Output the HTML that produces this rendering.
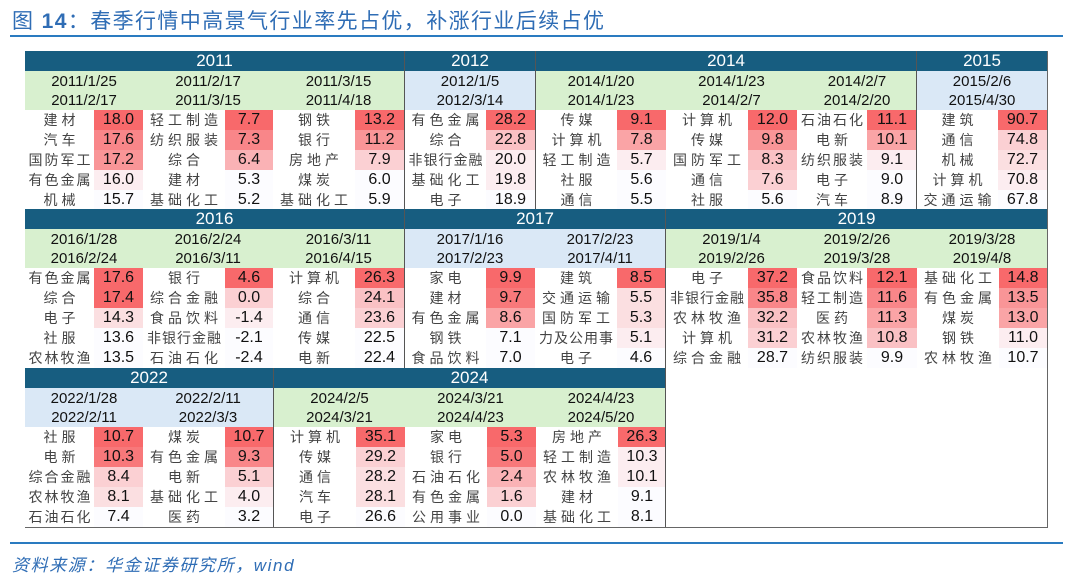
<!DOCTYPE html>
<html><head><meta charset="utf-8"><style>
*{margin:0;padding:0;box-sizing:border-box}
body{width:1080px;height:581px;background:#fff;position:relative;overflow:hidden;font-family:"Liberation Sans","Noto Sans CJK SC",sans-serif}
.title{position:absolute;left:12px;top:5px;font-size:21px;color:#2f6db5;letter-spacing:1.4px;white-space:nowrap}
.line{position:absolute;left:10px;width:1053px;height:2px;background:#2a7bc0}
.foot{position:absolute;left:12px;top:551px;font-size:17px;color:#2f6db5;font-style:italic;letter-spacing:1.6px}
.box{position:absolute;left:25px;top:51px;width:1023px;height:477px;border:1px solid #666}
.sec{position:absolute;height:159px}
.sec.bl{border-left:1px solid #555}
.yr{height:20px;background:#175d80;color:#fff;font-size:17px;line-height:20px;text-align:center}
.gs{display:flex}
.g{flex:none}
.d{height:39px;font-size:15px;line-height:19px;text-align:center;color:#111;padding-top:1px}
.gr .d{background:#d8f0cf}
.bu .d{background:#dae8f6}
.r{display:flex;height:20px;line-height:20px}
.n{flex:none;text-align:center;font-size:14px;color:#444;letter-spacing:4px;padding-left:4px;white-space:nowrap;overflow:hidden;background:#fff}
.n.s{letter-spacing:2px;padding-left:2px}
.n.f{letter-spacing:1px;padding-left:1px}
.v{flex:1;text-align:center;font-size:16px;color:#111}
</style></head><body>
<div class="title">图 <b>14</b>：春季行情中高景气行业率先占优，补涨行业后续占优</div>
<div class="line" style="top:35px"></div>

<div class="box"></div>

<div class="sec gr" style="left:25px;top:51px;width:379px">
<div class="yr">2011</div>
<div class="gs">
<div class="g" style="width:118px"><div class="d">2011/1/25<br>2011/2/17</div>
<div class="r"><span class="n" style="width:69px">建材</span><span class="v" style="background:#f8696b">18.0</span></div>
<div class="r"><span class="n" style="width:69px">汽车</span><span class="v" style="background:#f98689">17.6</span></div>
<div class="r"><span class="n s" style="width:69px">国防军工</span><span class="v" style="background:#f99597">17.2</span></div>
<div class="r"><span class="n s" style="width:69px">有色金属</span><span class="v" style="background:#fcedf0">16.0</span></div>
<div class="r"><span class="n" style="width:69px">机械</span><span class="v" style="background:#fcfcff">15.7</span></div></div>
<div class="g" style="width:130px"><div class="d">2011/2/17<br>2011/3/15</div>
<div class="r"><span class="n" style="width:82px">轻工制造</span><span class="v" style="background:#f8696b">7.7</span></div>
<div class="r"><span class="n" style="width:82px">纺织服装</span><span class="v" style="background:#f98689">7.3</span></div>
<div class="r"><span class="n" style="width:82px">综合</span><span class="v" style="background:#fab2b5">6.4</span></div>
<div class="r"><span class="n" style="width:82px">建材</span><span class="v" style="background:#fcfcff">5.3</span></div>
<div class="r"><span class="n" style="width:82px">基础化工</span><span class="v" style="background:#fcfcff">5.2</span></div></div>
<div class="g" style="width:131px"><div class="d">2011/3/15<br>2011/4/18</div>
<div class="r"><span class="n" style="width:82px">钢铁</span><span class="v" style="background:#f8696b">13.2</span></div>
<div class="r"><span class="n" style="width:82px">银行</span><span class="v" style="background:#f99597">11.2</span></div>
<div class="r"><span class="n" style="width:82px">房地产</span><span class="v" style="background:#fbd0d3">7.9</span></div>
<div class="r"><span class="n" style="width:82px">煤炭</span><span class="v" style="background:#fcfcff">6.0</span></div>
<div class="r"><span class="n" style="width:82px">基础化工</span><span class="v" style="background:#fcfcff">5.9</span></div></div>
</div></div>

<div class="sec bu bl" style="left:404px;top:51px;width:131px">
<div class="yr">2012</div>
<div class="gs">
<div class="g" style="width:130px"><div class="d">2012/1/5<br>2012/3/14</div>
<div class="r"><span class="n" style="width:81px">有色金属</span><span class="v" style="background:#f8696b">28.2</span></div>
<div class="r"><span class="n" style="width:81px">综合</span><span class="v" style="background:#fac1c4">22.8</span></div>
<div class="r"><span class="n f" style="width:81px">非银行金融</span><span class="v" style="background:#fcedf0">20.0</span></div>
<div class="r"><span class="n" style="width:81px">基础化工</span><span class="v" style="background:#fcedf0">19.8</span></div>
<div class="r"><span class="n" style="width:81px">电子</span><span class="v" style="background:#fcfcff">18.9</span></div></div>
</div></div>

<div class="sec gr bl" style="left:535px;top:51px;width:381px">
<div class="yr">2014</div>
<div class="gs">
<div class="g" style="width:130px"><div class="d">2014/1/20<br>2014/1/23</div>
<div class="r"><span class="n" style="width:81px">传媒</span><span class="v" style="background:#f8696b">9.1</span></div>
<div class="r"><span class="n" style="width:81px">计算机</span><span class="v" style="background:#faa4a6">7.8</span></div>
<div class="r"><span class="n" style="width:81px">轻工制造</span><span class="v" style="background:#fcedf0">5.7</span></div>
<div class="r"><span class="n" style="width:81px">社服</span><span class="v" style="background:#fcfcff">5.6</span></div>
<div class="r"><span class="n" style="width:81px">通信</span><span class="v" style="background:#fcfcff">5.5</span></div></div>
<div class="g" style="width:131px"><div class="d">2014/1/23<br>2014/2/7</div>
<div class="r"><span class="n" style="width:82px">计算机</span><span class="v" style="background:#f8696b">12.0</span></div>
<div class="r"><span class="n" style="width:82px">传媒</span><span class="v" style="background:#f99597">9.8</span></div>
<div class="r"><span class="n" style="width:82px">国防军工</span><span class="v" style="background:#fac1c4">8.3</span></div>
<div class="r"><span class="n" style="width:82px">通信</span><span class="v" style="background:#fbd0d3">7.6</span></div>
<div class="r"><span class="n" style="width:82px">社服</span><span class="v" style="background:#fcfcff">5.6</span></div></div>
<div class="g" style="width:120px"><div class="d">2014/2/7<br>2014/2/20</div>
<div class="r"><span class="n s" style="width:70px">石油石化</span><span class="v" style="background:#f8696b">11.1</span></div>
<div class="r"><span class="n" style="width:70px">电新</span><span class="v" style="background:#faa4a6">10.1</span></div>
<div class="r"><span class="n s" style="width:70px">纺织服装</span><span class="v" style="background:#fcedf0">9.1</span></div>
<div class="r"><span class="n" style="width:70px">电子</span><span class="v" style="background:#fcfcff">9.0</span></div>
<div class="r"><span class="n" style="width:70px">汽车</span><span class="v" style="background:#fcfcff">8.9</span></div></div>
</div></div>

<div class="sec bu bl" style="left:916px;top:51px;width:131px">
<div class="yr">2015</div>
<div class="gs">
<div class="g" style="width:130px"><div class="d">2015/2/6<br>2015/4/30</div>
<div class="r"><span class="n" style="width:81px">建筑</span><span class="v" style="background:#f8696b">90.7</span></div>
<div class="r"><span class="n" style="width:81px">通信</span><span class="v" style="background:#fbd0d3">74.8</span></div>
<div class="r"><span class="n" style="width:81px">机械</span><span class="v" style="background:#fbdfe1">72.7</span></div>
<div class="r"><span class="n" style="width:81px">计算机</span><span class="v" style="background:#fcedf0">70.8</span></div>
<div class="r"><span class="n" style="width:81px">交通运输</span><span class="v" style="background:#fcfcff">67.8</span></div></div>
</div></div>

<div class="sec gr" style="left:25px;top:209px;width:379px">
<div class="yr">2016</div>
<div class="gs">
<div class="g" style="width:118px"><div class="d">2016/1/28<br>2016/2/24</div>
<div class="r"><span class="n s" style="width:69px">有色金属</span><span class="v" style="background:#f8696b">17.6</span></div>
<div class="r"><span class="n" style="width:69px">综合</span><span class="v" style="background:#f8696b">17.4</span></div>
<div class="r"><span class="n" style="width:69px">电子</span><span class="v" style="background:#fbdfe1">14.3</span></div>
<div class="r"><span class="n" style="width:69px">社服</span><span class="v" style="background:#fcfcff">13.6</span></div>
<div class="r"><span class="n s" style="width:69px">农林牧渔</span><span class="v" style="background:#fcfcff">13.5</span></div></div>
<div class="g" style="width:130px"><div class="d">2016/2/24<br>2016/3/11</div>
<div class="r"><span class="n" style="width:82px">银行</span><span class="v" style="background:#f8696b">4.6</span></div>
<div class="r"><span class="n" style="width:82px">综合金融</span><span class="v" style="background:#fbd0d3">0.0</span></div>
<div class="r"><span class="n" style="width:82px">食品饮料</span><span class="v" style="background:#fcedf0">-1.4</span></div>
<div class="r"><span class="n f" style="width:82px">非银行金融</span><span class="v" style="background:#fcfcff">-2.1</span></div>
<div class="r"><span class="n" style="width:82px">石油石化</span><span class="v" style="background:#fcfcff">-2.4</span></div></div>
<div class="g" style="width:131px"><div class="d">2016/3/11<br>2016/4/15</div>
<div class="r"><span class="n" style="width:82px">计算机</span><span class="v" style="background:#f8696b">26.3</span></div>
<div class="r"><span class="n" style="width:82px">综合</span><span class="v" style="background:#fac1c4">24.1</span></div>
<div class="r"><span class="n" style="width:82px">通信</span><span class="v" style="background:#fbd0d3">23.6</span></div>
<div class="r"><span class="n" style="width:82px">传媒</span><span class="v" style="background:#fcfcff">22.5</span></div>
<div class="r"><span class="n" style="width:82px">电新</span><span class="v" style="background:#fcfcff">22.4</span></div></div>
</div></div>

<div class="sec bu bl" style="left:404px;top:209px;width:261px">
<div class="yr">2017</div>
<div class="gs">
<div class="g" style="width:130px"><div class="d">2017/1/16<br>2017/2/23</div>
<div class="r"><span class="n" style="width:81px">家电</span><span class="v" style="background:#f8696b">9.9</span></div>
<div class="r"><span class="n" style="width:81px">建材</span><span class="v" style="background:#f8787a">9.7</span></div>
<div class="r"><span class="n" style="width:81px">有色金属</span><span class="v" style="background:#faa4a6">8.6</span></div>
<div class="r"><span class="n" style="width:81px">钢铁</span><span class="v" style="background:#fcfcff">7.1</span></div>
<div class="r"><span class="n" style="width:81px">食品饮料</span><span class="v" style="background:#fcfcff">7.0</span></div></div>
<div class="g" style="width:130px"><div class="d">2017/2/23<br>2017/4/11</div>
<div class="r"><span class="n" style="width:82px">建筑</span><span class="v" style="background:#f8696b">8.5</span></div>
<div class="r"><span class="n" style="width:82px">交通运输</span><span class="v" style="background:#fbdfe1">5.5</span></div>
<div class="r"><span class="n" style="width:82px">国防军工</span><span class="v" style="background:#fbdfe1">5.3</span></div>
<div class="r"><span class="n f" style="width:82px">力及公用事</span><span class="v" style="background:#fcedf0">5.1</span></div>
<div class="r"><span class="n" style="width:82px">电子</span><span class="v" style="background:#fcfcff">4.6</span></div></div>
</div></div>

<div class="sec gr bl" style="left:665px;top:209px;width:382px">
<div class="yr">2019</div>
<div class="gs">
<div class="g" style="width:131px"><div class="d">2019/1/4<br>2019/2/26</div>
<div class="r"><span class="n" style="width:82px">电子</span><span class="v" style="background:#f8696b">37.2</span></div>
<div class="r"><span class="n f" style="width:82px">非银行金融</span><span class="v" style="background:#f98689">35.8</span></div>
<div class="r"><span class="n" style="width:82px">农林牧渔</span><span class="v" style="background:#fac1c4">32.2</span></div>
<div class="r"><span class="n" style="width:82px">计算机</span><span class="v" style="background:#fbd0d3">31.2</span></div>
<div class="r"><span class="n" style="width:82px">综合金融</span><span class="v" style="background:#fcfcff">28.7</span></div></div>
<div class="g" style="width:120px"><div class="d">2019/2/26<br>2019/3/28</div>
<div class="r"><span class="n s" style="width:70px">食品饮料</span><span class="v" style="background:#f8696b">12.1</span></div>
<div class="r"><span class="n s" style="width:70px">轻工制造</span><span class="v" style="background:#f98689">11.6</span></div>
<div class="r"><span class="n" style="width:70px">医药</span><span class="v" style="background:#faa4a6">11.3</span></div>
<div class="r"><span class="n s" style="width:70px">农林牧渔</span><span class="v" style="background:#fac1c4">10.8</span></div>
<div class="r"><span class="n s" style="width:70px">纺织服装</span><span class="v" style="background:#fcfcff">9.9</span></div></div>
<div class="g" style="width:130px"><div class="d">2019/3/28<br>2019/4/8</div>
<div class="r"><span class="n" style="width:82px">基础化工</span><span class="v" style="background:#f8696b">14.8</span></div>
<div class="r"><span class="n" style="width:82px">有色金属</span><span class="v" style="background:#f99597">13.5</span></div>
<div class="r"><span class="n" style="width:82px">煤炭</span><span class="v" style="background:#faa4a6">13.0</span></div>
<div class="r"><span class="n" style="width:82px">钢铁</span><span class="v" style="background:#fcedf0">11.0</span></div>
<div class="r"><span class="n" style="width:82px">农林牧渔</span><span class="v" style="background:#fcfcff">10.7</span></div></div>
</div></div>

<div class="sec bu" style="left:25px;top:368px;width:248px">
<div class="yr">2022</div>
<div class="gs">
<div class="g" style="width:118px"><div class="d">2022/1/28<br>2022/2/11</div>
<div class="r"><span class="n" style="width:69px">社服</span><span class="v" style="background:#f8696b">10.7</span></div>
<div class="r"><span class="n" style="width:69px">电新</span><span class="v" style="background:#f8787a">10.3</span></div>
<div class="r"><span class="n s" style="width:69px">综合金融</span><span class="v" style="background:#fbd0d3">8.4</span></div>
<div class="r"><span class="n s" style="width:69px">农林牧渔</span><span class="v" style="background:#fbdfe1">8.1</span></div>
<div class="r"><span class="n s" style="width:69px">石油石化</span><span class="v" style="background:#fcfcff">7.4</span></div></div>
<div class="g" style="width:130px"><div class="d">2022/2/11<br>2022/3/3</div>
<div class="r"><span class="n" style="width:82px">煤炭</span><span class="v" style="background:#f8696b">10.7</span></div>
<div class="r"><span class="n" style="width:82px">有色金属</span><span class="v" style="background:#f98689">9.3</span></div>
<div class="r"><span class="n" style="width:82px">电新</span><span class="v" style="background:#fbd0d3">5.1</span></div>
<div class="r"><span class="n" style="width:82px">基础化工</span><span class="v" style="background:#fcedf0">4.0</span></div>
<div class="r"><span class="n" style="width:82px">医药</span><span class="v" style="background:#fcfcff">3.2</span></div></div>
</div></div>

<div class="sec gr bl" style="left:273px;top:368px;width:392px">
<div class="yr">2024</div>
<div class="gs">
<div class="g" style="width:131px"><div class="d">2024/2/5<br>2024/3/21</div>
<div class="r"><span class="n" style="width:82px">计算机</span><span class="v" style="background:#f8696b">35.1</span></div>
<div class="r"><span class="n" style="width:82px">传媒</span><span class="v" style="background:#fbd0d3">29.2</span></div>
<div class="r"><span class="n" style="width:82px">通信</span><span class="v" style="background:#fbdfe1">28.2</span></div>
<div class="r"><span class="n" style="width:82px">汽车</span><span class="v" style="background:#fbdfe1">28.1</span></div>
<div class="r"><span class="n" style="width:82px">电子</span><span class="v" style="background:#fcfcff">26.6</span></div></div>
<div class="g" style="width:131px"><div class="d">2024/3/21<br>2024/4/23</div>
<div class="r"><span class="n" style="width:82px">家电</span><span class="v" style="background:#f8696b">5.3</span></div>
<div class="r"><span class="n" style="width:82px">银行</span><span class="v" style="background:#f8787a">5.0</span></div>
<div class="r"><span class="n" style="width:82px">石油石化</span><span class="v" style="background:#fab2b5">2.4</span></div>
<div class="r"><span class="n" style="width:82px">有色金属</span><span class="v" style="background:#fbd0d3">1.6</span></div>
<div class="r"><span class="n" style="width:82px">公用事业</span><span class="v" style="background:#fcfcff">0.0</span></div></div>
<div class="g" style="width:130px"><div class="d">2024/4/23<br>2024/5/20</div>
<div class="r"><span class="n" style="width:82px">房地产</span><span class="v" style="background:#f8696b">26.3</span></div>
<div class="r"><span class="n" style="width:82px">轻工制造</span><span class="v" style="background:#fcedf0">10.3</span></div>
<div class="r"><span class="n" style="width:82px">农林牧渔</span><span class="v" style="background:#fcedf0">10.1</span></div>
<div class="r"><span class="n" style="width:82px">建材</span><span class="v" style="background:#fcfcff">9.1</span></div>
<div class="r"><span class="n" style="width:82px">基础化工</span><span class="v" style="background:#fcfcff">8.1</span></div></div>
</div></div>

<div style="position:absolute;left:665px;top:368px;width:1px;height:159px;background:#555"></div>

<div class="line" style="top:542px"></div>
<div class="foot">资料来源：华金证券研究所，wind</div>
</body></html>
